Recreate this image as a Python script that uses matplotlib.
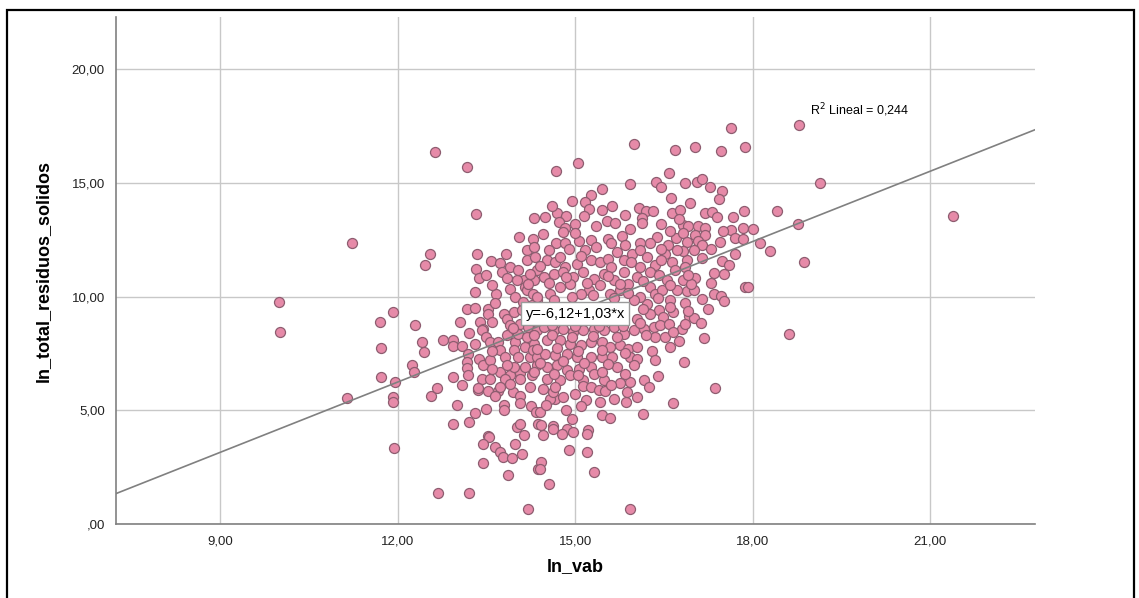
import matplotlib.pyplot as plt
from matplotlib.patches import Rectangle

plt.rcParams['font.family'] = ['Liberation Sans', 'DejaVu Sans']

zona_izq = [(10.0, 9.76), (10.01, 8.44), (11.15, 5.54), (11.23, 12.35), (11.70, 8.88),
            (11.72, 7.74), (11.72, 6.46), (11.92, 9.32), (11.96, 6.24), (11.92, 5.58),
            (11.92, 5.36), (11.94, 3.34), (12.24, 6.97), (12.27, 6.68), (12.30, 8.76),
            (12.41, 8.0), (12.45, 7.56), (12.55, 11.88), (12.46, 11.37), (12.63, 16.35),
            (12.69, 1.35)]

zona_arriba = [(13.17, 15.71), (13.33, 13.63), (14.31, 13.46), (14.05, 12.61), (14.28, 12.54),
               (16.0, 16.70), (15.05, 15.88), (14.67, 15.52), (16.69, 16.44), (16.58, 15.42),
               (16.37, 15.05), (16.45, 14.80), (15.92, 14.93), (15.45, 14.75), (15.27, 14.46),
               (15.17, 14.14), (15.24, 13.83), (15.45, 13.80), (15.62, 13.99), (16.08, 13.90),
               (16.20, 13.77), (16.31, 13.76), (16.62, 14.32), (16.63, 13.68), (16.13, 13.44),
               (16.13, 13.22), (15.53, 13.33), (15.68, 13.24), (15.92, 12.95), (15.79, 12.66),
               (14.49, 13.48), (14.70, 13.66), (14.84, 13.54), (14.72, 13.29), (14.99, 13.19),
               (14.83, 13.0), (14.80, 12.85), (14.46, 12.75), (15.07, 12.45), (15.27, 12.48),
               (15.56, 12.51), (15.60, 12.37), (16.38, 12.60), (16.27, 12.34), (16.10, 12.34),
               (14.68, 12.35), (14.82, 12.35), (16.57, 12.26), (16.71, 12.57),
               (17.63, 17.39), (18.79, 17.54), (17.03, 16.58), (17.46, 16.41), (17.87, 16.56),
               (19.13, 15.0), (16.86, 15.0), (17.06, 15.05), (17.14, 15.16), (17.28, 14.80),
               (17.48, 14.65), (17.43, 14.27), (16.94, 14.10), (17.20, 13.66), (17.32, 13.73),
               (17.40, 13.48), (17.66, 13.51), (17.86, 13.76), (18.41, 13.76), (16.77, 13.82),
               (18.77, 13.19), (17.64, 12.92), (17.84, 13.0), (18.01, 12.95), (17.70, 12.56),
               (17.84, 12.51), (18.13, 12.34), (16.83, 13.14), (16.91, 13.10), (17.08, 13.10),
               (17.20, 13.0), (16.83, 12.78), (17.03, 12.70), (17.20, 12.70), (16.89, 12.41),
               (17.08, 12.45), (17.45, 12.41), (17.14, 12.26), (21.39, 13.54),
               (16.60, 12.90), (16.45, 13.20), (15.35, 13.10), (15.00, 12.80), (15.85, 13.60),
               (15.15, 13.55), (14.60, 14.00), (14.95, 14.20), (16.75, 13.40), (17.50, 12.90)]

zona_der = [(18.30, 12.0), (18.87, 11.52), (17.48, 11.56), (17.70, 11.88), (16.89, 11.59),
            (16.83, 12.0), (17.0, 12.03), (17.34, 11.03), (17.51, 10.98), (17.03, 10.83),
            (16.82, 10.74), (17.87, 10.42), (17.92, 10.44), (16.89, 10.24), (17.0, 10.27),
            (17.34, 10.12), (17.46, 10.01), (17.52, 9.80), (17.24, 9.47), (16.93, 9.13),
            (17.01, 9.07), (17.13, 8.84), (16.80, 8.59), (17.18, 8.19), (18.62, 8.37),
            (16.84, 7.12), (17.37, 5.97), (17.30, 12.10), (17.60, 11.40), (17.15, 11.70),
            (17.30, 10.60), (16.95, 10.55), (17.15, 9.90)]

zona_centro_izq = [(13.34, 11.85), (13.33, 11.22), (13.38, 10.83), (13.57, 11.56), (13.73, 11.47),
                   (13.83, 11.85), (13.76, 11.08), (13.85, 10.83), (14.18, 12.03), (13.67, 10.10),
                   (13.90, 10.34), (13.99, 9.98), (14.13, 10.71), (14.30, 10.71), (14.15, 10.42),
                   (13.17, 9.47), (13.31, 9.51), (13.52, 9.47), (13.53, 9.25), (13.40, 8.88),
                   (13.45, 8.59), (13.59, 8.88), (12.77, 8.07), (12.94, 8.10), (12.94, 7.81),
                   (13.08, 7.81), (13.19, 7.46), (13.17, 7.12), (13.17, 6.84), (13.19, 6.55),
                   (12.94, 6.46), (13.37, 7.27), (13.44, 6.98), (13.42, 6.39), (13.56, 7.20),
                   (13.56, 6.39), (13.73, 6.68), (13.90, 6.54), (14.07, 6.64), (13.42, 8.51),
                   (13.49, 8.22), (13.56, 8.0), (13.70, 8.0), (13.85, 8.29), (13.99, 8.0),
                   (13.73, 7.63), (13.82, 7.34), (13.96, 7.63), (14.15, 7.78), (13.79, 9.24),
                   (13.85, 9.02), (13.96, 9.32), (13.90, 8.73), (14.07, 8.80), (14.04, 8.37),
                   (14.18, 8.22), (14.30, 7.93), (14.24, 7.34), (14.15, 6.90), (14.35, 6.98),
                   (14.18, 10.28), (14.29, 10.13), (14.35, 9.84), (14.27, 9.62), (14.12, 9.76),
                   (14.18, 9.25), (14.32, 9.03), (14.21, 8.66), (14.35, 8.52), (14.29, 7.64),
                   (14.35, 7.34), (14.04, 7.34), (14.27, 6.54), (13.96, 6.91), (13.81, 6.39),
                   (14.07, 6.39), (14.21, 10.57), (14.01, 10.71), (13.90, 11.30), (14.04, 11.15),
                   (14.18, 11.59), (14.32, 11.74), (14.35, 11.15), (14.24, 11.01),
                   (13.60, 10.50), (13.50, 10.95), (13.65, 9.70), (13.30, 10.20), (13.20, 8.40),
                   (13.05, 8.90), (13.60, 7.60), (13.30, 7.90), (13.85, 7.00), (13.60, 6.80),
                   (14.10, 9.40), (13.95, 8.60)]

zona_centro = [(14.52, 11.59), (14.66, 11.52), (14.83, 11.30), (15.03, 11.45), (15.17, 12.03),
               (15.26, 11.59), (15.42, 11.52), (15.56, 11.67), (15.71, 11.96), (15.82, 11.59),
               (15.96, 11.89), (16.10, 12.03), (16.21, 11.74), (16.35, 11.37), (16.52, 11.89),
               (16.64, 11.52), (16.72, 12.03), (16.10, 11.30), (16.27, 11.08), (16.04, 10.86),
               (16.41, 10.93), (16.55, 10.71), (16.69, 11.15), (14.47, 10.86), (14.64, 11.01),
               (14.80, 11.08), (14.97, 10.86), (15.14, 11.08), (15.31, 10.79), (15.48, 11.01),
               (15.65, 10.71), (15.82, 11.08), (15.23, 10.28), (15.42, 10.50), (15.59, 10.13),
               (15.76, 10.28), (15.90, 10.57), (16.27, 10.42), (16.35, 10.13), (16.47, 10.28),
               (16.61, 9.84), (16.72, 10.28), (14.92, 10.57), (14.75, 10.42), (14.58, 10.13),
               (15.09, 10.13), (16.21, 9.69), (16.41, 9.40), (16.10, 9.98), (15.99, 9.84),
               (16.27, 9.25), (16.49, 9.10), (16.66, 9.32), (16.04, 9.03),
               (14.47, 8.66), (14.64, 8.52), (14.80, 8.59), (14.97, 8.44), (15.14, 8.52),
               (15.31, 8.59), (15.48, 8.52), (15.65, 8.66), (15.82, 8.37), (15.99, 8.52),
               (16.16, 8.59), (16.33, 8.66), (16.44, 8.74), (16.58, 8.81), (16.35, 8.22),
               (16.52, 8.22), (16.66, 8.44), (14.52, 8.08), (14.75, 8.08), (14.92, 7.93),
               (15.09, 7.86), (15.26, 8.0), (15.45, 8.0), (15.59, 7.78), (15.76, 7.86),
               (15.90, 7.71), (16.04, 7.78), (14.49, 7.49), (14.66, 7.42), (14.86, 7.49),
               (15.03, 7.35), (15.26, 7.35), (15.45, 7.35), (15.62, 7.35), (15.93, 7.35),
               (16.04, 7.27), (14.52, 6.91), (14.69, 6.98), (14.86, 6.76), (15.06, 6.83),
               (15.26, 6.91), (15.31, 6.61), (15.71, 6.91), (14.52, 6.39), (14.75, 6.32),
               (14.92, 6.54), (15.14, 6.32), (15.48, 6.32), (15.93, 6.25), (16.16, 6.32),
               (14.30, 12.20), (14.55, 12.05), (14.90, 12.10), (15.35, 12.20), (15.85, 12.25),
               (16.45, 12.10), (14.40, 11.35), (14.75, 11.75), (15.10, 11.80), (15.60, 11.30),
               (15.95, 11.50), (16.45, 11.60), (16.85, 11.30), (14.55, 10.60), (14.85, 10.85),
               (15.20, 10.60), (15.55, 10.90), (15.75, 10.55), (16.15, 10.70), (16.60, 10.50),
               (16.90, 10.95), (14.35, 10.00), (14.65, 9.85), (14.95, 10.00), (15.30, 10.05),
               (15.65, 9.95), (15.90, 10.15), (16.40, 9.95), (16.85, 9.70), (16.15, 9.45),
               (16.60, 9.55), (16.90, 9.35), (16.10, 8.85), (16.85, 8.80), (14.60, 8.75),
               (15.00, 8.70), (15.40, 8.72), (15.80, 8.70), (14.30, 8.30), (14.60, 8.30),
               (14.95, 8.20), (15.30, 8.25), (15.70, 8.20), (16.20, 8.30), (16.75, 8.05),
               (14.35, 7.70), (14.70, 7.75), (15.05, 7.60), (15.45, 7.65), (15.85, 7.50),
               (16.30, 7.60), (16.60, 7.80), (14.40, 7.10), (14.80, 7.15), (15.15, 7.10),
               (15.55, 7.05), (16.00, 7.00), (16.35, 7.20), (14.30, 6.70), (14.65, 6.60),
               (15.05, 6.55), (15.45, 6.70), (15.85, 6.60), (16.40, 6.50)]

zona_abajo = [(12.57, 5.64), (12.66, 5.98), (13.08, 6.12), (13.01, 5.24), (12.94, 4.40),
              (13.21, 4.50), (13.30, 4.87), (13.49, 5.05), (13.36, 5.90), (13.53, 5.83),
              (13.70, 5.86), (13.73, 6.04), (13.65, 5.64), (13.95, 5.79), (14.07, 5.64),
              (13.80, 5.24), (13.79, 5.01), (14.07, 5.31), (14.26, 5.20), (14.34, 4.91),
              (13.52, 3.88), (13.55, 3.81), (13.45, 3.52), (13.65, 3.37), (13.73, 3.15),
              (13.78, 2.93), (13.93, 2.90), (13.99, 3.52), (14.10, 3.08), (14.01, 4.25),
              (14.06, 4.40), (14.14, 3.93), (14.38, 4.40), (13.45, 2.67), (13.87, 2.17),
              (14.37, 2.42), (13.21, 1.35), (14.21, 0.66), (14.23, 6.02),
              (16.66, 5.31), (16.14, 4.84), (16.25, 6.04), (16.04, 5.60), (15.86, 5.35),
              (15.88, 5.79), (15.42, 5.35), (15.45, 4.81), (15.59, 4.66), (15.18, 5.45),
              (15.0, 5.71), (14.94, 4.62), (15.22, 4.13), (15.20, 3.96), (15.20, 3.18),
              (14.90, 3.25), (15.31, 2.27), (15.93, 0.66), (14.86, 4.18), (14.96, 4.03),
              (14.77, 3.96), (14.63, 4.32), (14.63, 4.18), (14.46, 3.93), (14.43, 4.37),
              (14.43, 2.71), (14.40, 2.42), (14.55, 1.76), (14.66, 5.49), (14.58, 5.49),
              (14.63, 5.79), (14.66, 6.01), (14.41, 4.92), (15.14, 6.08), (15.26, 6.01),
              (15.40, 5.89), (15.51, 5.86), (13.35, 6.00), (13.90, 6.15), (14.45, 5.95),
              (14.80, 5.60), (15.10, 5.20), (14.50, 5.25), (14.85, 5.00), (15.65, 5.50),
              (15.75, 6.20), (15.60, 6.10)]

# ajuste lineal indicado en el grafico
intercepto = -6.12
pendiente = 1.03
r2 = 0.244

x_ticks = [9, 12, 15, 18, 21]
y_ticks = [0, 5, 10, 15, 20]

puntos = zona_izq + zona_arriba + zona_der + zona_centro_izq + zona_centro + zona_abajo
ln_vab = [p[0] for p in puntos]
ln_res = [p[1] for p in puntos]


def coma(v, dec=2):
    s = ('%.' + str(dec) + 'f') % v
    s = s.replace('.', ',')
    if s.startswith('0,'):
        s = s[1:]
    return s


fig = plt.figure(figsize=(11.39, 5.98), dpi=100)
ax = fig.add_axes([0.1018, 0.1237, 0.8069, 0.8479])

xmin, xmax = 7.24, 22.77
ax.set_xlim(xmin, xmax)
ax.set_ylim(0, 22.29)

ax.grid(True, color='#c8c8c8', linewidth=1.0)
ax.set_axisbelow(True)

ax.scatter(ln_vab, ln_res, s=52, facecolor='#e68aa8', edgecolor='#8e5d70',
           linewidth=0.9, zorder=3)

ax.plot([xmin, xmax], [intercepto + pendiente * xmin, intercepto + pendiente * xmax],
        color='#808080', linewidth=1.2, zorder=4)

ax.text(15.0, 9.25, 'y=-6,12+1,03*x', fontsize=10.5, ha='center', va='center', zorder=5,
        bbox=dict(boxstyle='square,pad=0.3', facecolor='white', edgecolor='#9a9a9a', linewidth=1))
ax.text(18.97, 18.2, 'R$^2$ Lineal = 0' + coma(r2, 3), fontsize=9, ha='left', va='center',
        zorder=5)

ax.set_xticks(x_ticks)
ax.set_xticklabels([coma(v) for v in x_ticks], fontsize=9.5, color='#222222')
ax.set_yticks(y_ticks)
ax.set_yticklabels([coma(v) for v in y_ticks], fontsize=9.5, color='#222222')
ax.tick_params(length=0, pad=8)

for side in ['top', 'right']:
    ax.spines[side].set_visible(False)
for side in ['left', 'bottom']:
    ax.spines[side].set_color('#808080')
    ax.spines[side].set_linewidth(1.2)

ax.set_xlabel('ln_vab', fontsize=13, fontweight='bold', labelpad=8)
ax.set_ylabel('ln_total_residuos_solidos', fontsize=13, fontweight='bold', labelpad=14)

fig.patches.append(Rectangle((7 / 1139, -0.01), 1127 / 1139, 1 - 10 / 598 + 0.01,
                             transform=fig.transFigure, fill=False, edgecolor='black',
                             linewidth=1.6))

fig.savefig('out.png', dpi=100)
